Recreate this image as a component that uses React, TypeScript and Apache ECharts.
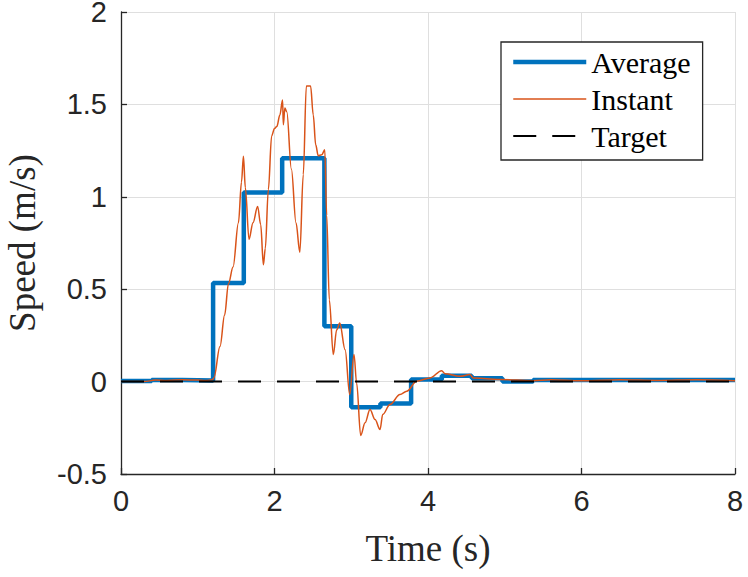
import React, { useEffect, useRef } from "react";
import * as echarts from "echarts";

const xTicks = [0, 2, 4, 6, 8];
const yTicks = [-0.5, 0, 0.5, 1, 1.5, 2];

const averageTimes = [0, 0.4, 0.8, 1.2, 1.6, 2.1, 2.65, 3.0, 3.38, 3.78, 4.18, 4.57, 4.97, 5.37, 8];
const averageValues = [0.003, 0.008, 0.006, 0.533, 1.023, 1.209, 0.299, -0.139, -0.119, 0.011, 0.032, 0.018, 0.0, 0.008, 0.008];

const instantTimes = [
  0, 0.3, 0.45, 0.6, 0.8, 1.0, 1.1, 1.19, 1.21, 1.29, 1.35, 1.4, 1.46, 1.53, 1.57, 1.595,
  1.62, 1.668, 1.72, 1.78, 1.82, 1.855, 1.88, 1.92, 1.963, 2.0, 2.03, 2.07, 2.105, 2.115,
  2.135, 2.16, 2.22, 2.28, 2.33, 2.375, 2.415, 2.47, 2.505, 2.537, 2.57, 2.615, 2.655,
  2.68, 2.714, 2.766, 2.81, 2.85, 2.92, 2.98, 3.036, 3.07, 3.123, 3.18, 3.244, 3.31,
  3.375, 3.41, 3.505, 3.635, 3.723, 3.853, 4.026, 4.178, 4.22, 4.417, 4.547, 4.59, 4.765,
  4.94, 5.37, 5.6, 6.0, 6.5, 7.0, 7.5, 8.0,
];
const instantValues = [
  0.0, 0.0, 0.008, 0.006, 0.01, 0.008, 0.006, 0.01, 0.02, 0.19, 0.36, 0.53, 0.62, 0.86, 1.08, 1.22,
  1.05, 0.77, 0.86, 0.948, 0.85, 0.632, 0.72, 1.04, 1.33, 1.37, 1.38, 1.443, 1.524, 1.39,
  1.48, 1.46, 1.15, 0.86, 0.7, 1.12, 1.6, 1.6, 1.443, 1.281, 1.222, 1.227, 1.254,
  0.9, 0.443, 0.146, 0.28, 0.317, 0.173, -0.07, 0.146, -0.007, -0.292, -0.223, -0.151, -0.205,
  -0.259, -0.178, -0.124, -0.07, -0.052, 0.002, 0.02, 0.059, 0.043, 0.029, 0.038, 0.02, 0.015,
  0.011, 0.005, 0.01, 0.004, 0.01, 0.006, 0.01, 0.005,
];

const targetTimes = [0, 8];
const targetValues = [0, 0];

const BLUE = "#0072BD";
const ORANGE = "#D95319";
const AXIS = "#262626";
const SERIF = "'Liberation Serif', 'Times New Roman', serif";
const SANS = "'Liberation Sans', Arial, Helvetica, sans-serif";
const DASH = [23, 16];

export default function App() {
  const ref = useRef<HTMLDivElement>(null);
  useEffect(() => {
    if (!ref.current) return;
    const chart = echarts.init(ref.current, undefined, { renderer: "svg" });
    const pair = (xs: number[], ys: number[]) => xs.map((x, i) => [x, ys[i]]);
    const hidden = { opacity: 0 };
    chart.setOption({
      animation: false,
      backgroundColor: "#ffffff",
      grid: { left: 121, right: 13, top: 12, bottom: 103, containLabel: false, outerBoundsMode: "none" },
      xAxis: {
        type: "value",
        min: xTicks[0],
        max: xTicks[xTicks.length - 1],
        interval: 2,
        name: "Time (s)",
        nameLocation: "middle",
        nameGap: 56,
        nameTextStyle: { fontFamily: SERIF, fontSize: 37, color: AXIS },
        axisLine: { show: true, onZero: false, lineStyle: { color: AXIS, width: 1.3 } },
        axisTick: { show: true, inside: true, length: 6, lineStyle: { color: AXIS, width: 1.3 } },
        axisLabel: { fontFamily: SANS, fontSize: 29, color: AXIS, margin: 12 },
        splitLine: { show: true, lineStyle: { color: "#dfdfdf", width: 1 } },
      },
      yAxis: {
        type: "value",
        min: yTicks[0],
        max: yTicks[yTicks.length - 1],
        interval: 0.5,
        name: "Speed (m/s)",
        nameLocation: "middle",
        nameGap: 82,
        nameTextStyle: { fontFamily: SERIF, fontSize: 37, color: AXIS, lineHeight: 34 },
        axisLine: { show: true, onZero: false, lineStyle: { color: AXIS, width: 1.3 } },
        axisTick: { show: true, inside: true, length: 6, lineStyle: { color: AXIS, width: 1.3 } },
        axisLabel: { fontFamily: SANS, fontSize: 29, color: AXIS, margin: 14, lineHeight: 20 },
        splitLine: { show: true, lineStyle: { color: "#dfdfdf", width: 1 } },
      },
      legend: {
        orient: "vertical",
        left: 501,
        top: 42,
        padding: [5, 12, 9, 10],
        itemWidth: 73,
        itemHeight: 14,
        itemGap: 7,
        borderColor: AXIS,
        borderWidth: 1.3,
        backgroundColor: "#ffffff",
        textStyle: { fontFamily: SERIF, fontSize: 30, color: "#000", lineHeight: 30 },
        data: [
          { name: "Average", itemStyle: hidden, lineStyle: { color: BLUE, width: 4.5 } },
          { name: "Instant", itemStyle: hidden, lineStyle: { color: ORANGE, width: 1.5 } },
          { name: "Target", itemStyle: hidden, lineStyle: { color: "#000", width: 2, type: DASH } },
        ],
      },
      series: [
        {
          name: "Average",
          type: "line",
          step: "end",
          data: pair(averageTimes, averageValues),
          symbol: "none",
          lineStyle: { color: BLUE, width: 4.5 },
          itemStyle: { color: BLUE },
        },
        {
          name: "Instant",
          type: "line",
          data: pair(instantTimes, instantValues),
          symbol: "none",
          smooth: 0.35,
          smoothMonotone: "x",
          lineStyle: { color: ORANGE, width: 1.5 },
          itemStyle: { color: ORANGE },
        },
        {
          name: "Target",
          type: "line",
          data: pair(targetTimes, targetValues),
          symbol: "none",
          lineStyle: { color: "#000", width: 2, type: DASH },
          itemStyle: { color: "#000" },
        },
      ],
    });
    return () => chart.dispose();
  }, []);
  return (
    <div
      ref={ref}
      style={{ position: "absolute", left: 0, top: 0, width: 748, height: 577, background: "#fff" }}
    />
  );
}
